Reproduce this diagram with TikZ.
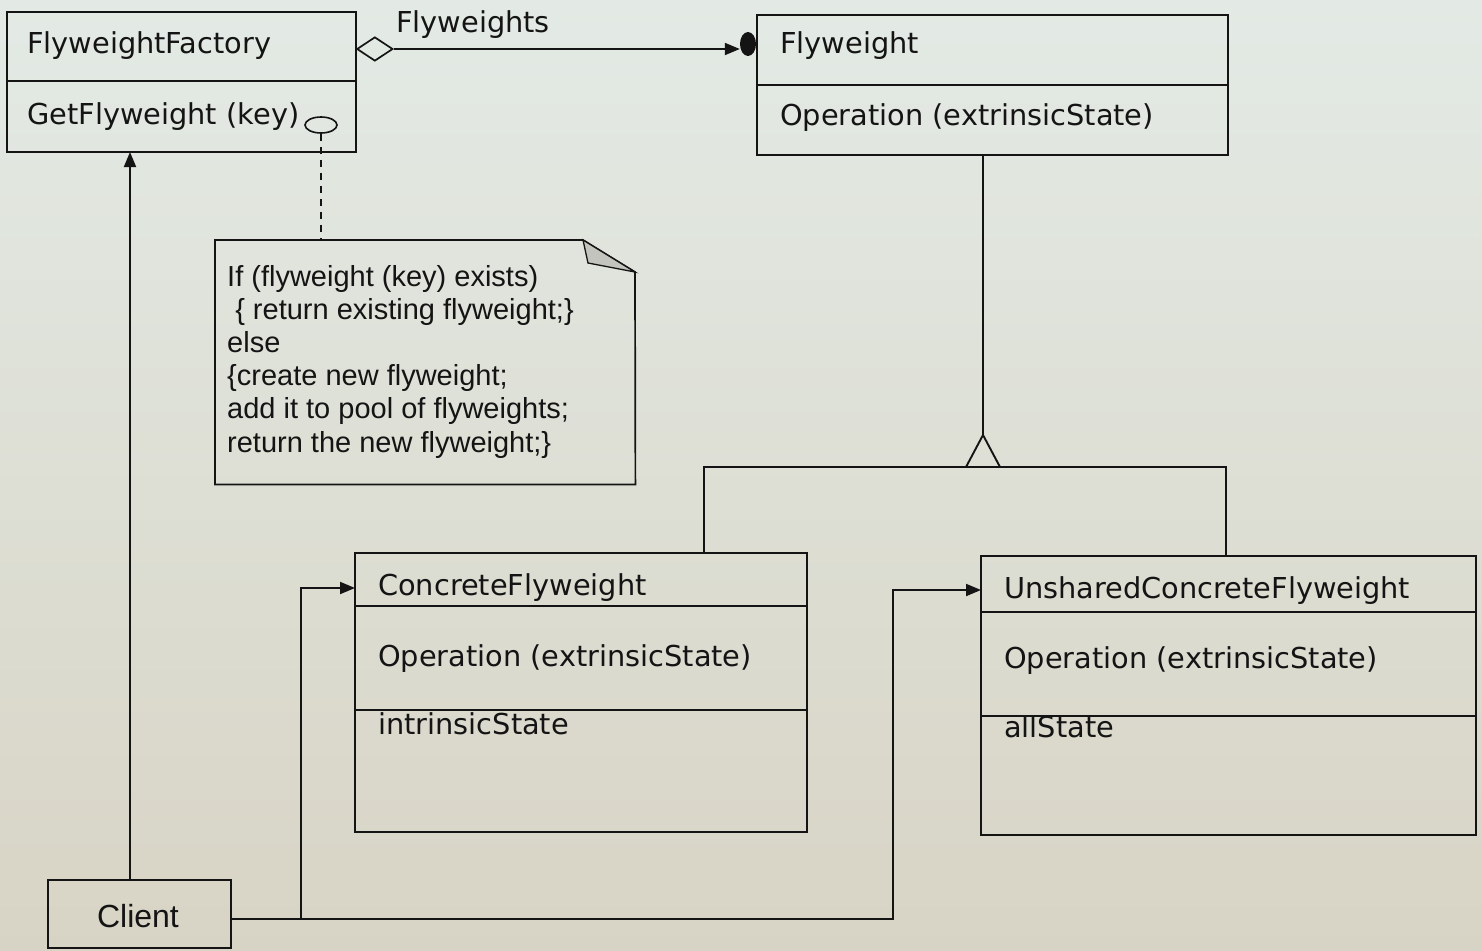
\documentclass[tikz,border=0pt]{standalone}
\usepackage{fontspec}
\setmainfont{DejaVu Sans}
\newfontfamily\notefont{Liberation Sans}
\usetikzlibrary{arrows.meta,shapes.geometric}
\definecolor{ink}{HTML}{141414}
\definecolor{paperTop}{HTML}{E3EAE5}
\definecolor{paperBot}{HTML}{D8D4C5}
\definecolor{foldgray}{HTML}{C4C4BE}

\begin{document}
\begin{tikzpicture}[x=1pt,y=-1pt,
  box/.style={draw=ink, line width=1.9pt, inner sep=0pt, outer sep=0pt, anchor=north west},
  lbl/.style={inner sep=0pt, anchor=base west, font=\fontsize{28.8}{33}\selectfont, text=ink},
  notetxt/.style={inner sep=0pt, anchor=base west, font=\notefont\fontsize{29}{33.2}\selectfont, text=ink},
  wire/.style={draw=ink, line width=1.9pt},
  tip/.style={-{Triangle[length=15pt,width=12pt]}},
]
% page
\useasboundingbox (0,0) rectangle (1482,950);
\fill[top color=paperTop, bottom color=paperBot] (0,0) rectangle (1482,950);

% ---- FlyweightFactory ----
\node[box, minimum width=349pt, minimum height=140pt] (factory) at (7,12) {};
\draw[wire] (7,81) -- (356,81);
\node[lbl] (factoryName) at (27,53) {FlyweightFactory};
\node[lbl] (factoryOp) at (27,124) {GetFlyweight (key)};
\node[draw=ink, line width=1.6pt, ellipse, inner sep=0pt, minimum width=32pt, minimum height=16pt] (getop) at (321,125) {};

% ---- Flyweight ----
\node[box, minimum width=471pt, minimum height=140pt] (flyweight) at (757,15) {};
\draw[wire] (757,85) -- (1228,85);
\node[lbl] (flyName) at (780,54) {Flyweight};
\node[lbl] (flyOp) at (780,125) {Operation (extrinsicState)};

% aggregation Flyweights
\node[diamond, draw=ink, line width=1.7pt, inner sep=0pt, minimum width=36pt, minimum height=24pt, anchor=west] (agg) at (356,49) {};
\node[fill=ink, ellipse, inner sep=0pt, minimum width=16pt, minimum height=24pt] (dot) at (748,44) {};
\draw[wire, tip] (agg.east) -- (agg.east -| dot.west);
\node[lbl] (aggLabel) at (396,33) {Flyweights};

% ---- note ----
\node[inner sep=0pt, minimum width=420pt, minimum height=244pt, anchor=north west] (note) at (215,240) {};
\draw[wire, line width=1.7pt] (note.north west) -- (583,240) -- (635,272) -- (note.south east) -- (note.south west) -- cycle;
\filldraw[fill=foldgray, draw=ink, line width=1.3pt] (583,240) -- (588,263) -- (635,272) -- cycle;
\node[notetxt] (n1) at (227,286) {If (flyweight (key) exists)};
\node[notetxt] (n2) at (227,319.2) {\ \{ return existing flyweight;\}};
\node[notetxt] (n3) at (227,352.4) {else};
\node[notetxt] (n4) at (227,385.6) {\{create new flyweight;};
\node[notetxt] (n5) at (227,418.8) {add it to pool of flyweights;};
\node[notetxt] (n6) at (227,452) {return the new flyweight;\}};
\draw[wire, dashed, dash pattern=on 7pt off 6pt] (getop.south) -- (getop.south |- note.north);

% ---- ConcreteFlyweight ----
\node[box, minimum width=452pt, minimum height=279pt] (concrete) at (355,553) {};
\draw[wire] (355,606) -- (807,606);
\draw[wire] (355,710) -- (807,710);
\node[lbl] (concName) at (378,595) {ConcreteFlyweight};
\node[lbl] (concOp) at (378,666) {Operation (extrinsicState)};
\node[lbl] (concAttr) at (378,734) {intrinsicState};

% ---- UnsharedConcreteFlyweight ----
\node[box, minimum width=495pt, minimum height=279pt] (unshared) at (981,556) {};
\draw[wire] (981,612) -- (1476,612);
\draw[wire] (981,716) -- (1476,716);
\node[lbl] (unName) at (1004,598) {UnsharedConcreteFlyweight};
\node[lbl] (unOp) at (1004,668) {Operation (extrinsicState)};
\node[lbl] (unAttr) at (1004,737) {allState};

% generalization
\coordinate (apex) at (983,435);
\draw[wire] (flyweight.south -| apex) -- (apex);
\draw[wire, line join=miter] (apex) -- (966,467) -- (1000,467) -- cycle;
\draw[wire] (concrete.north -| 704,0) -- (704,467) -- (1226,467) -- (unshared.north -| 1226,0);

% ---- Client ----
\node[box, minimum width=183pt, minimum height=68pt] (client) at (48,880) {};
\node[inner sep=0pt, font=\notefont\fontsize{32}{36}\selectfont, text=ink] (clientName) at (138,916) {Client};

\draw[wire, tip] (client.north -| 130,0) -- (factory.south -| 130,0);
\draw[wire, tip] (client.east |- 0,919) -- (301,919) -- (301,588) -- (concrete.west |- 0,588);
\draw[wire, tip] (301,919) -- (893,919) -- (893,590) -- (unshared.west |- 0,590);
\end{tikzpicture}
\end{document}
